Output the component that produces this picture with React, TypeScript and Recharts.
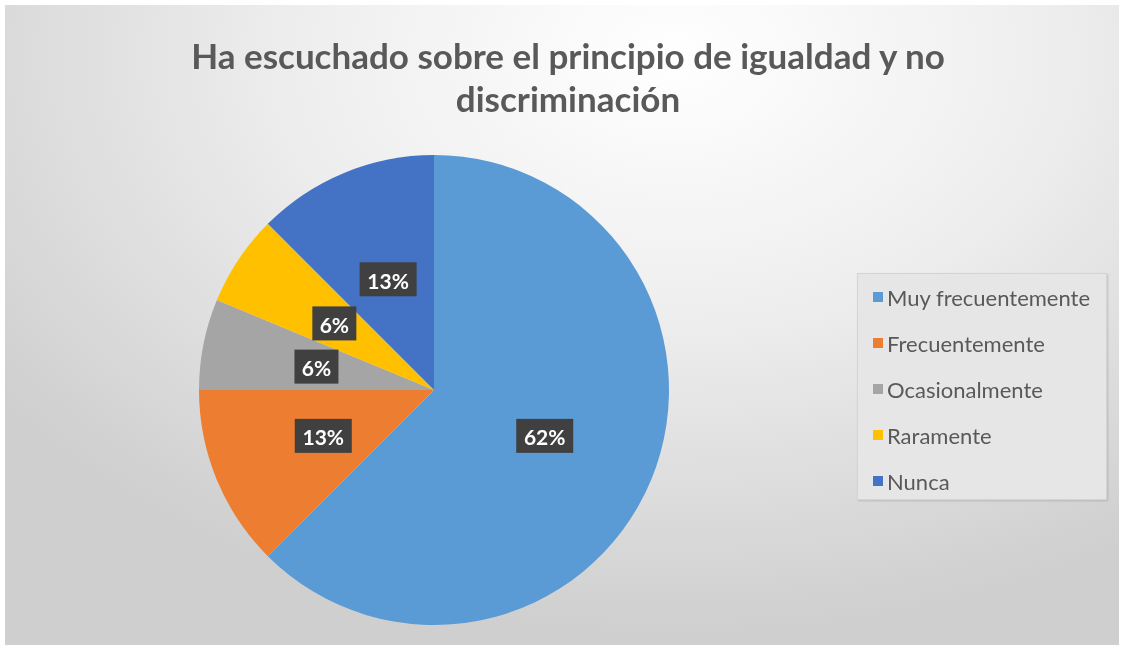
import { FC } from 'react';
import { PieChart, Pie, Cell, Legend } from 'recharts';

const categories = ['Muy frecuentemente', 'Frecuentemente', 'Ocasionalmente', 'Raramente', 'Nunca'];
const counts = [10, 2, 1, 1, 2];
const percentLabels = ['62%', '13%', '6%', '6%', '13%'];
const colors = ['#5B9BD5', '#ED7D31', '#A5A5A5', '#FFC000', '#4472C4'];

const data = categories.map((name, i) => ({
	name,
	value: counts[i],
	label: percentLabels[i],
	color: colors[i],
}));

const FONT = 'Lato, "Open Sans", sans-serif';
const RADIAN = Math.PI / 180;

const renderLabel = ({
	cx,
	cy,
	midAngle,
	outerRadius,
	index,
}: {
	cx: number;
	cy: number;
	midAngle: number;
	outerRadius: number;
	index: number;
}) => {
	const radius = outerRadius * 0.51;
	const x = cx + radius * Math.cos(-midAngle * RADIAN);
	const y = cy + radius * Math.sin(-midAngle * RADIAN);
	const text = data[index].label;
	const w = text.length * 13 + 18;
	return (
		<g>
			<rect x={x - w / 2} y={y - 17} width={w} height={34} fill='#404040' />
			<text
				x={x}
				y={y + 1}
				fill='#FFFFFF'
				fontFamily={FONT}
				fontWeight='bold'
				fontSize={21}
				textAnchor='middle'
				dominantBaseline='central'
			>
				{text}
			</text>
		</g>
	);
};

const renderLegend = () => (
	<div
		style={{
			width: 250,
			height: 227,
			boxSizing: 'border-box',
			background: '#E6E6E6',
			border: '1px solid #D4D4D4',
			boxShadow: '1px 1px 2px rgba(0,0,0,0.15)',
			padding: '0 0 0 15px',
			fontFamily: FONT,
		}}
	>
		{data.map((entry, index) => (
			<div
				key={`legend-${index}`}
				style={{ display: 'flex', alignItems: 'center', height: 46 }}
			>
				<div style={{ width: 10, height: 10, background: entry.color, marginRight: 4 }} />
				<span style={{ color: '#595959', fontSize: 22, whiteSpace: 'nowrap' }}>{entry.name}</span>
			</div>
		))}
	</div>
);

const App: FC = () => {
	return (
		<div
			style={{
				position: 'fixed',
				left: 0,
				top: 0,
				width: 1124,
				height: 650,
				background: '#FFFFFF',
			}}
		>
			<div
				style={{
					position: 'absolute',
					left: 5,
					top: 5,
					width: 1114,
					height: 640,
					background:
						'radial-gradient(ellipse 75% 90% at 60% 8%, #FFFFFF 0%, #EEEEEE 45%, #CFCFCF 100%)',
				}}
			>
				<div
					style={{
						position: 'absolute',
						left: 6,
						top: 29,
						width: 1114,
						textAlign: 'center',
						fontFamily: FONT,
						fontWeight: 'bold',
						fontSize: 35,
						lineHeight: '43px',
						color: '#595959',
					}}
				>
					Ha escuchado sobre el principio de igualdad y no
					<br />
					discriminación
				</div>
				<PieChart width={1114} height={640} style={{ position: 'absolute', left: 0, top: 0 }}>
					<Pie
						data={data}
						dataKey='value'
						nameKey='name'
						cx={424}
						cy={380}
						outerRadius={235}
						startAngle={90}
						endAngle={-270}
						stroke='none'
						labelLine={false}
						label={renderLabel}
						isAnimationActive={false}
					>
						{data.map((entry, index) => (
							<Cell key={`cell-${index}`} fill={entry.color} />
						))}
					</Pie>
					<Legend
						layout='vertical'
						verticalAlign='top'
						align='right'
						content={renderLegend}
						wrapperStyle={{ left: 852, top: 268, width: 250 }}
					/>
				</PieChart>
			</div>
		</div>
	);
};

export default App;
